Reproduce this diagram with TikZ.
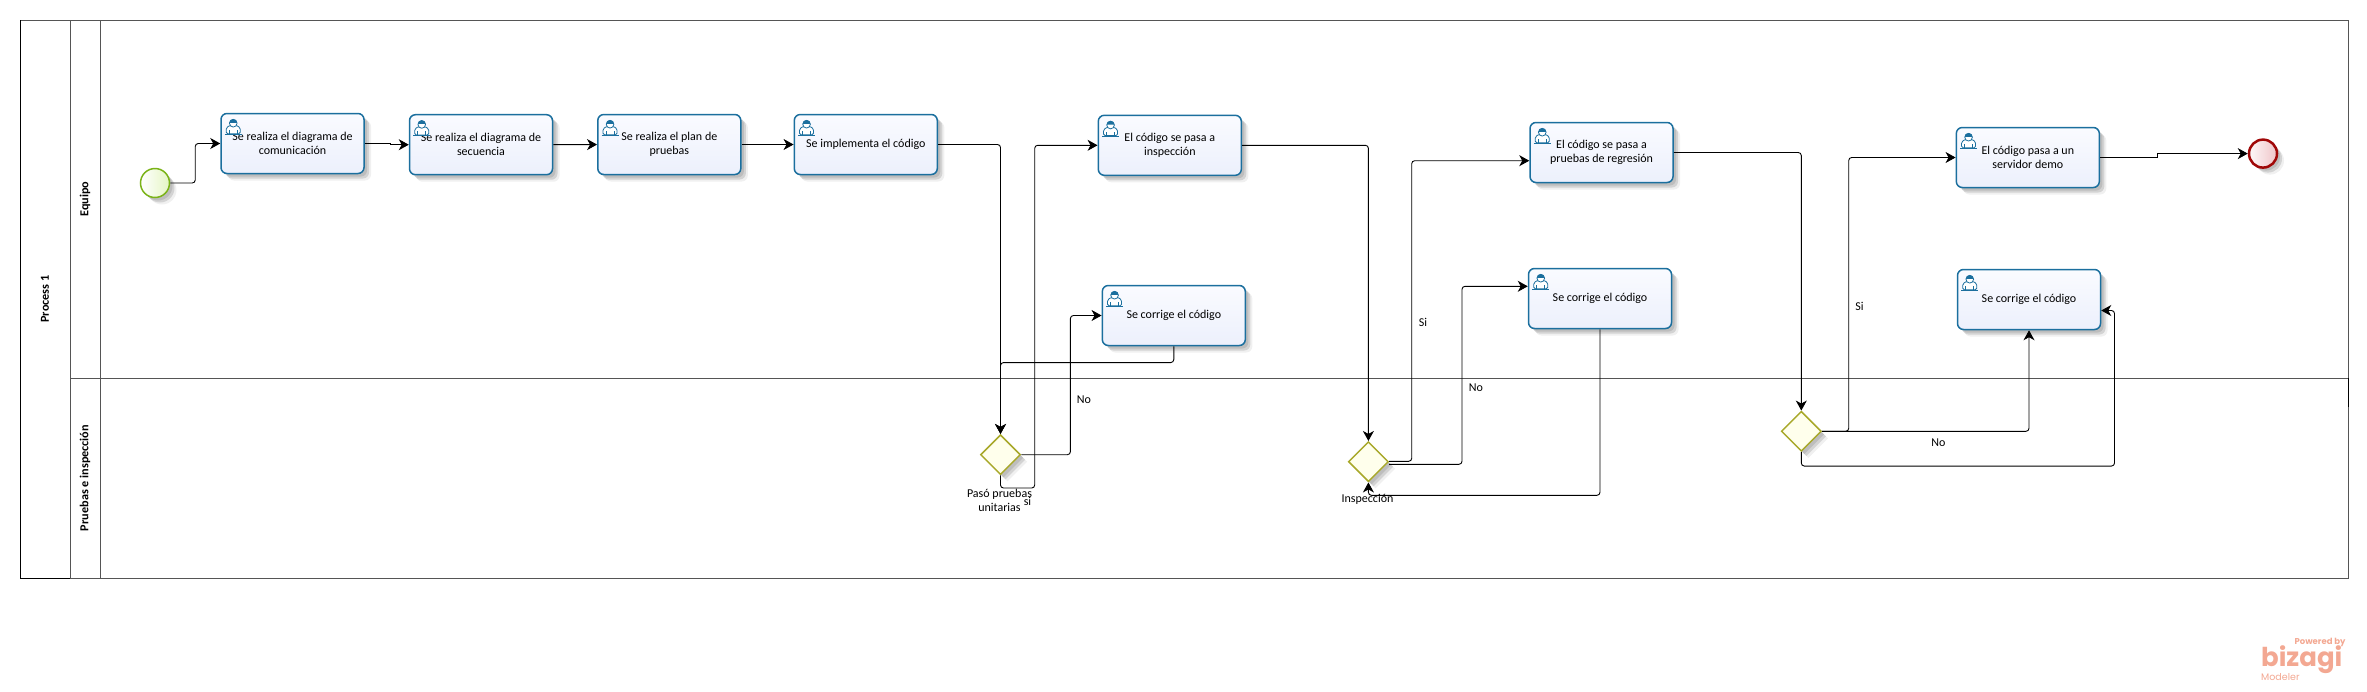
\documentclass[tikz,border=0pt]{standalone}
\usepackage{fontspec}
\setmainfont{Carlito}
\newfontfamily\logofont{Poppins}
\usepackage{xcolor}
\usetikzlibrary{arrows.meta,shapes.geometric,shadows}

\definecolor{taskblue}{HTML}{1B6F9E}
\definecolor{tasktop}{HTML}{FAFBFF}
\definecolor{taskbottom}{HTML}{ECF0FC}
\definecolor{poolgray}{HTML}{555555}
\definecolor{gateolive}{HTML}{A8A82A}
\definecolor{gatefill}{HTML}{FFFFEC}
\definecolor{startgreen}{HTML}{7AB317}
\definecolor{startfill}{HTML}{E4F5C4}
\definecolor{enddark}{HTML}{A00808}
\definecolor{endfill}{HTML}{EFC4C8}
\definecolor{logopink}{HTML}{F3A892}

\tikzset{
	softshadow/.style={
		general shadow={shadow xshift=3pt,shadow yshift=-3pt,fill=black,opacity=.10},
		general shadow={shadow xshift=5pt,shadow yshift=-5pt,fill=black,opacity=.12},
		general shadow={shadow xshift=7pt,shadow yshift=-7pt,fill=black,opacity=.06}
	},
	task/.style={draw=taskblue,line width=1.5pt,rounded corners=6pt,
		minimum width=143pt,minimum height=60pt,inner sep=0pt,align=center,
		top color=tasktop,bottom color=taskbottom,softshadow,
		font=\fontsize{12}{14}\selectfont},
	startev/.style={circle,draw=startgreen,line width=1.5pt,minimum size=29pt,inner sep=0pt,
		left color=white,right color=startfill,softshadow},
	endev/.style={circle,draw=enddark,line width=2.5pt,minimum size=28pt,inner sep=0pt,
		left color=white!90!endfill,right color=endfill,softshadow},
	gate/.style={diamond,aspect=1,draw=gateolive,line width=1.5pt,minimum width=40pt,minimum height=40pt,
		inner sep=0pt,fill=gatefill,softshadow},
	flow/.style={-{Stealth[length=10pt,width=11pt,inset=3pt]},black,line width=.9pt,rounded corners=3pt},
	lbl/.style={inner sep=0pt,align=center,font=\fontsize{12}{14}\selectfont},
	lanetitle/.style={rotate=90,inner sep=0pt,font=\fontsize{12.2}{14}\selectfont\bfseries},
	pics/usericon/.style={code={
		\draw[taskblue,fill=white,line width=.8pt,rounded corners=1.5pt] (-7,7) -- (-7,1) -- (-3,-1.5) -- (3,-1.5) -- (7,1) -- (7,7) -- cycle;
		\draw[taskblue,line width=.8pt] (-8.5,7.5) -- (8.5,7.5) (-4,7) -- (-4,3) (4,7) -- (4,3);
		\draw[taskblue,fill=white,line width=.8pt] (0,-3.5) circle (3.8pt);
		\fill[taskblue] (-3.8,-4) arc (180:0:3.8pt) -- cycle;
	}}
}

\begin{document}
\begin{tikzpicture}[x=1pt,y=-1pt]
	\useasboundingbox (0,0) rectangle (2367,691);

	% pool and lanes
	\draw[poolgray,line width=1pt] (20,20) rectangle (2348,578);
	\draw[black,line width=1pt] (20,578) -- (20,20) (20,578) -- (70,578) (2348,378) -- (2348,407);
	\draw[poolgray,line width=1pt] (70,20) -- (70,578) (100,20) -- (100,578) (70,378) -- (2348,378);
	\node[lanetitle] (process) at (45,299) {Process 1};
	\node[lanetitle] (equipo) at (85,199) {Equipo};
	\node[lanetitle] (pruebas) at (85,478) {Pruebas e inspección};

	% events and gateways
	\node[startev] (start) at (155,183) {};
	\node[endev] (end) at (2263,153.6) {};
	\node[gate] (gA) at (1000.5,454.7) {};
	\node[gate] (gB) at (1368.4,461.7) {};
	\node[gate] (gC) at (1801.3,431.3) {};

	% tasks
	\node[task] (comunicacion) at (292.5,143.5) {Se realiza el diagrama de\\comunicación};
	\node[task] (secuencia) at (481,144.7) {Se realiza el diagrama de\\secuencia};
	\node[task] (plan) at (669.3,144.5) {Se realiza el plan de\\pruebas};
	\node[task] (implementa) at (865.8,144.5) {Se implementa el código};
	\node[task] (inspeccion) at (1169.8,145.3) {El código se pasa a\\inspección};
	\node[task] (corrigeA) at (1173.8,315.5) {Se corrige el código};
	\node[task] (regresion) at (1601.5,152.5) {El código se pasa a\\pruebas de regresión};
	\node[task] (corrigeB) at (1600,298.5) {Se corrige el código};
	\node[task] (demo) at (2027.8,157.5) {El código pasa a un\\servidor demo};
	\node[task] (corrigeC) at (2029,299.5) {Se corrige el código};

	% person icons
	\foreach \t in {comunicacion,secuencia,plan,implementa,inspeccion,corrigeA,regresion,corrigeB,demo,corrigeC}
		\path (\t.north west) ++(13,14) pic {usericon};

	% turning points
	\coordinate (siA) at (1034.7,488);
	\coordinate (noA) at (1070.4,400);
	\coordinate (siB) at (1411.7,400);
	\coordinate (noB) at (1462,400);
	\coordinate (backB) at (1500,495.3);
	\coordinate (siC) at (1848.7,400);
	\coordinate (backC) at (2114.5,400);

	% flows
	\draw[flow] (start.east) -- ++(25,0) |- (comunicacion.west);
	\draw[flow,sharp corners] (comunicacion.east) -- ++(26,0) |- (secuencia.west);
	\draw[flow] (secuencia) -- (plan);
	\draw[flow] (plan) -- (implementa);
	\draw[flow] (implementa.east) -| (gA.north);
	\draw[flow] (gA.south) |- (siA) |- (inspeccion.west);
	\draw[flow] (gA.east) -| (noA) |- (corrigeA.west);
	\draw[flow] (corrigeA.south) -- ++(0,16.3) -| (gA.north);
	\draw[flow] (inspeccion.east) -| (gB.north);
	\draw[flow] ([yshift=.4pt]gB.east) -| (siB) |- ([yshift=-8.2pt]regresion.west);
	\draw[flow] ([yshift=-2.6pt]gB.east) -| (noB) |- ([yshift=12.2pt]corrigeB.west);
	\draw[flow] (corrigeB.south) |- (backB) -| (gB.south);
	\draw[flow] (regresion.east) -| (gC.north);
	\draw[flow] (gC.east) -| (siC) |- (demo.west);
	\draw[flow] (gC.east) -| (corrigeC.south);
	\draw[flow] (gC.south) -- ++(0,14) -| (backC) |- ([yshift=-11pt]corrigeC.east);
	\draw[flow,sharp corners] (demo.east) -- ++(57,0) |- (end.west);

	% labels
	\node[lbl] (pasoLbl) at (999.5,500) {Pasó pruebas\\unitarias};
	\node[lbl] (siALbl) at (1027.5,501) {si};
	\node[lbl] (noALbl) at (1084,400) {No};
	\node[lbl] (inspLbl) at (1367.5,499) {Inspección};
	\node[lbl] (siBLbl) at (1423,322) {Si};
	\node[lbl] (noBLbl) at (1476,387.3) {No};
	\node[lbl] (siCLbl) at (1859.4,306.3) {Si};
	\node[lbl] (noCLbl) at (1938.3,443) {No};

	% logo
	\node[inner sep=0pt,text=logopink,font=\logofont\fontsize{8.5}{10}\selectfont\bfseries] (powered) at (2320,642) {Powered by};
	\node[inner sep=0pt,text=logopink,font=\logofont\fontsize{26}{30}\selectfont\bfseries] (bizagi) at (2301.7,660) {bizagi};
	\node[inner sep=0pt,text=logopink,anchor=west,font=\logofont\fontsize{9.5}{10}\selectfont] (modeler) at (2261,677) {Modeler};
\end{tikzpicture}
\end{document}
